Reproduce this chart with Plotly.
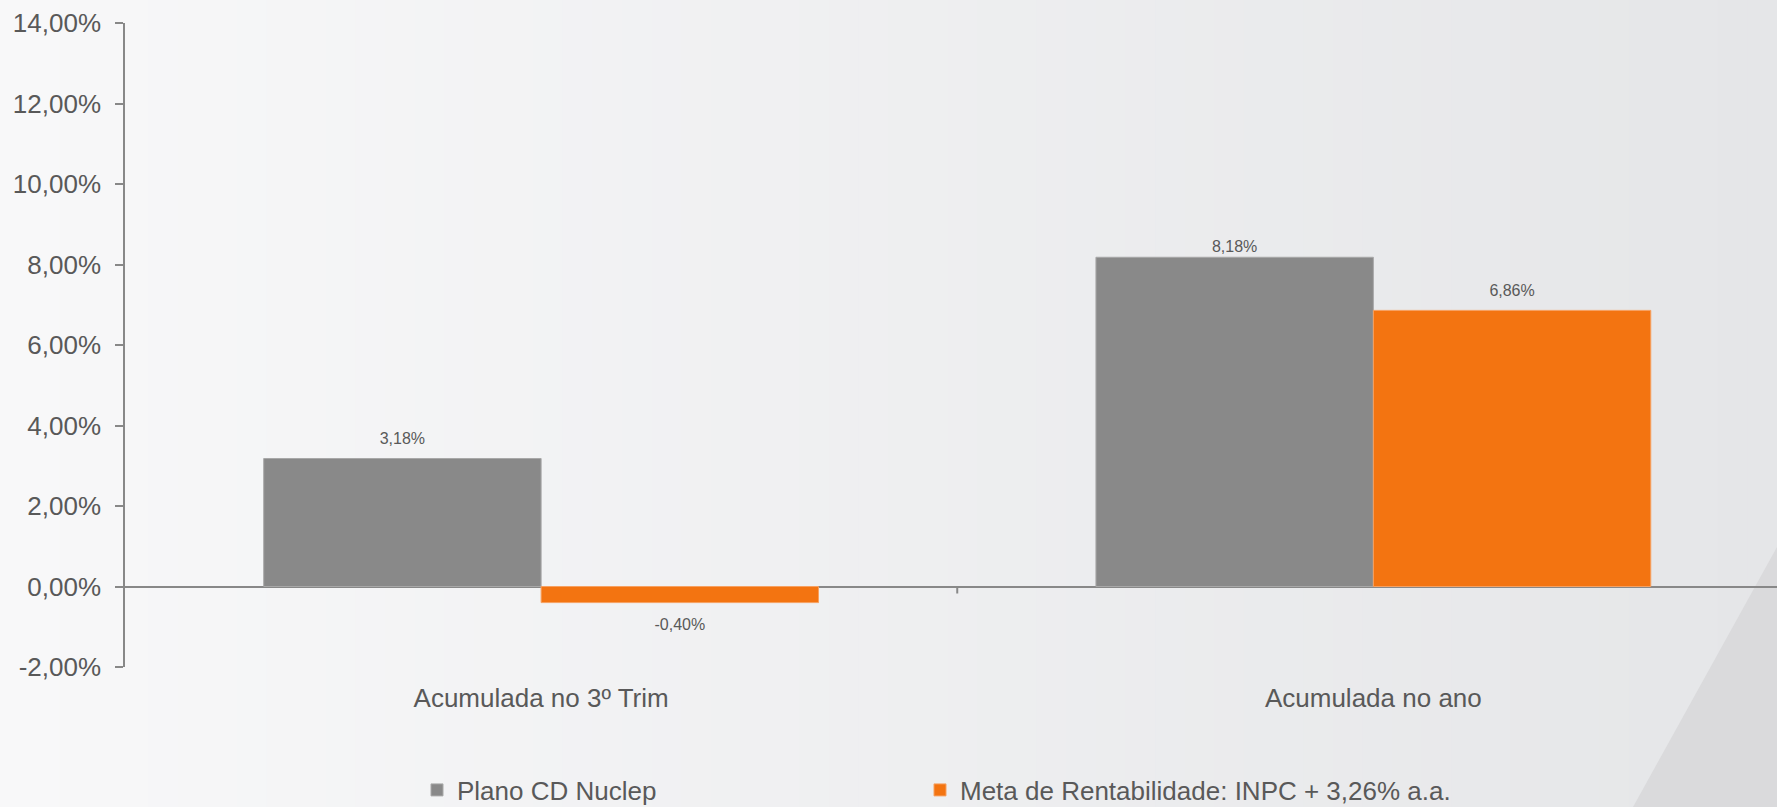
import plotly.graph_objects as go

categories = ["Acumulada no 3º Trim", "Acumulada no ano"]
plano_cd = [3.18, 8.18]
meta = [-0.40, 6.86]
series_names = ["Plano CD Nuclep", "Meta de Rentabilidade: INPC + 3,26% a.a."]
y_ticks = [-2, 0, 2, 4, 6, 8, 10, 12, 14]
y_ticktext = [f"{v:.2f}".replace(".", ",") + "%" for v in y_ticks]

W, H = 1777, 807
ML, MR, MT, MB = 125, 0, 23, 140
pw = W - ML - MR
ph = H - MT - MB

TXT = "#595959"
FONT = "Arial, Liberation Sans, sans-serif"
BAR_COLORS = ["#898989", "#F37411"]
BAR_EDGES = ["#a8a8a8", "#f7a060"]
# invisible marker sizes that set each value label's gap from its bar
LABEL_GAPS = [[15, 1], [23, 15]]
series_values = [plano_cd, meta]

fig = go.Figure()
for i, (name, vals) in enumerate(zip(series_names, series_values)):
    fig.add_trace(go.Bar(
        x=categories, y=vals, name=name,
        marker=dict(color=BAR_COLORS[i], line=dict(color=BAR_EDGES[i], width=1)),
        offsetgroup=str(i), legend="legend" if i == 0 else "legend2",
        hoverinfo="skip",
    ))
# value labels, grouped with the bars
for i, (name, vals) in enumerate(zip(series_names, series_values)):
    fig.add_trace(go.Scatter(
        x=categories, y=vals, mode="markers+text",
        marker=dict(size=LABEL_GAPS[i], opacity=0),
        texttemplate="%{y:.2f}%",
        textposition=["top center" if v >= 0 else "bottom center" for v in vals],
        textfont=dict(size=16, color=TXT),
        offsetgroup=str(i), showlegend=False, cliponaxis=False,
        hoverinfo="skip",
    ))

# background gradient (left light -> right slightly darker)
shapes = []
x0p = -ML / pw
x1p = 1 + MR / pw
y0p = -MB / ph - 0.02
y1p = 1 + MT / ph + 0.02
n = 60
c0 = (248, 248, 249)
c1 = (229, 230, 232)
for i in range(n):
    t = i / (n - 1)
    c = tuple(round(c0[k] + (c1[k] - c0[k]) * t) for k in range(3))
    xa = x0p + (x1p - x0p) * i / n
    xb = x0p + (x1p - x0p) * (i + 1) / n + 0.002
    shapes.append(dict(type="rect", xref="paper", yref="paper", x0=xa, x1=xb,
                       y0=y0p, y1=y1p, fillcolor="rgb(%d,%d,%d)" % c,
                       line=dict(width=0), layer="below"))
# diagonal darker wedge bottom-right
wx1 = (1633 - ML) / pw
wy = (H - MB - 547) / ph
yb = -MB / ph
shapes.append(dict(type="path", xref="paper", yref="paper",
                   path=f"M 1 {wy} L {wx1} {yb} L 1 {yb} Z",
                   fillcolor="#dadadc", line=dict(width=0), layer="below"))
# category boundary tick on the zero line
shapes.append(dict(type="line", xref="x", yref="y domain", x0=0.5, x1=0.5,
                   y0=2 / 16, y1=2 / 16 - 7 / ph,
                   line=dict(color="#888888", width=2)))

leg_y = 1 - 790 / H
fig.update_layout(
    width=W, height=H,
    margin=dict(l=ML, r=MR, t=MT, b=MB, pad=0, autoexpand=False),
    paper_bgcolor="#f2f2f3",
    plot_bgcolor="rgba(0,0,0,0)",
    separators=",.",
    barmode="group", bargap=1/3, bargroupgap=0,
    scattermode="group", scattergap=1/3,
    font=dict(family=FONT, color=TXT, size=26),
    shapes=shapes,
    showlegend=True,
    legend=dict(orientation="h", x=(417 - ML) / pw, xanchor="left",
                y=leg_y, yref="container", yanchor="middle",
                font=dict(size=26, color=TXT), bgcolor="rgba(0,0,0,0)"),
    legend2=dict(orientation="h", x=(920 - ML) / pw, xanchor="left",
                 y=leg_y, yref="container", yanchor="middle",
                 font=dict(size=26, color=TXT), bgcolor="rgba(0,0,0,0)"),
    xaxis=dict(type="category", range=[-0.5, 1.485], showgrid=False,
               showline=False, zeroline=False, ticks="", automargin=False,
               tickfont=dict(size=26, color=TXT), ticklabelstandoff=13),
    yaxis=dict(range=[-2, 14], tickvals=y_ticks, ticktext=y_ticktext,
               showgrid=False, showline=True, automargin=False,
               linecolor="#888888", linewidth=1.5, ticks="outside",
               ticklen=8, tickwidth=1.5, tickcolor="#888888",
               zeroline=True, zerolinecolor="#888888", zerolinewidth=2,
               tickfont=dict(size=26, color=TXT), ticklabelstandoff=9),
)

fig.write_html(
    "out.html",
    config={"displayModeBar": False},
    post_script="document.body.style.margin='0px';"
                "document.documentElement.style.overflow='hidden';"
                "document.body.style.background='#eeeeef';",
)
